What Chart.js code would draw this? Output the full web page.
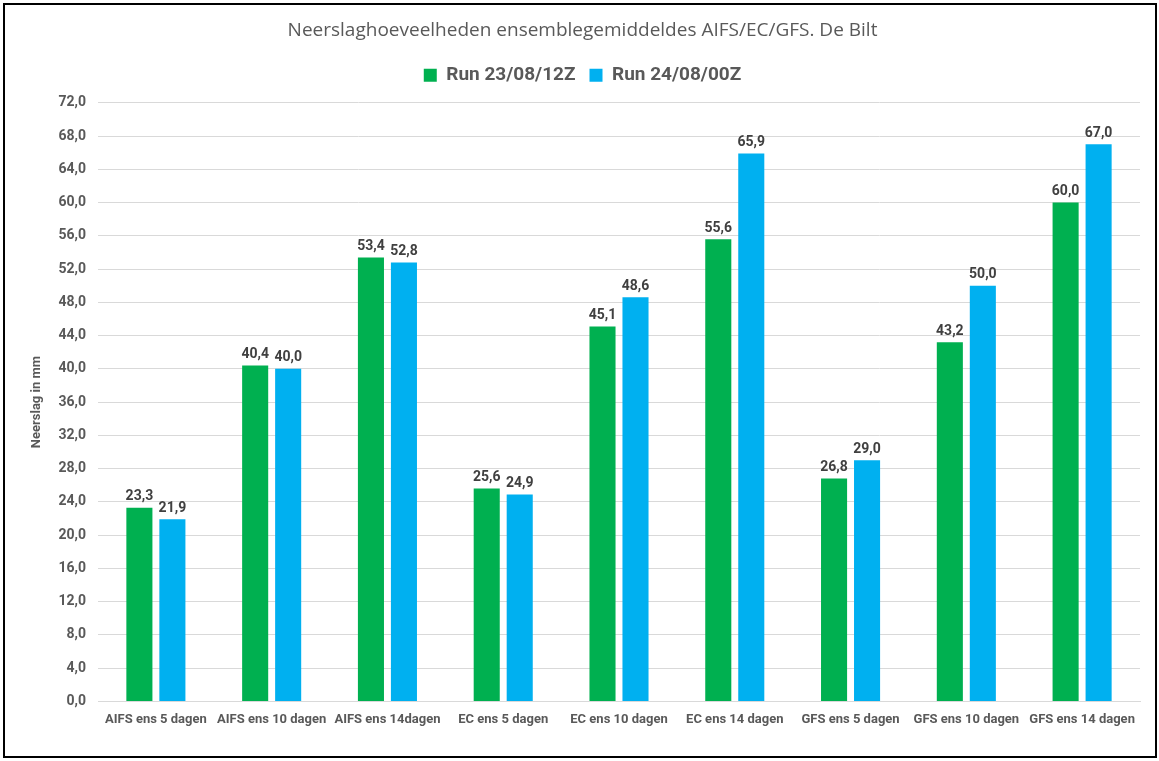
<!DOCTYPE html>
<html>
<head>
<meta charset="utf-8">
<script src="https://cdn.jsdelivr.net/npm/chart.js@4"></script>
<style>
    html, body { margin: 0; padding: 0; background: #fff; }
    #frame {
        position: absolute; left: 3px; top: 3px;
        width: 1154px; height: 755px;
        box-sizing: border-box; border: 2px solid #000;
    }
    #wrap { position: absolute; left: 0; top: 0; right: 0; bottom: 0; }
</style>
</head>
<body>
<div id="frame"><div id="wrap"><canvas id="neerslagChart"></canvas></div></div>
<script>
const categories = [
    'AIFS ens 5 dagen', 'AIFS ens 10 dagen', 'AIFS ens 14dagen',
    'EC ens 5 dagen', 'EC ens 10 dagen', 'EC ens 14 dagen',
    'GFS ens 5 dagen', 'GFS ens 10 dagen', 'GFS ens 14 dagen'
];
const run2308 = [23.3, 40.4, 53.4, 25.6, 45.1, 55.6, 26.8, 43.2, 60.0];
const run2408 = [21.9, 40.0, 52.8, 24.9, 48.6, 65.9, 29.0, 50.0, 67.0];

const narrow = "'Roboto', sans-serif";
const fmt = v => v.toFixed(1).replace('.', ',');

// labels above the bars
const valueLabels = {
    id: 'valueLabels',
    afterDatasetsDraw(chart) {
        const c = chart.ctx;
        c.save();
        c.font = 'bold 14px ' + narrow;
        c.fillStyle = '#404040';
        c.textAlign = 'center';
        c.textBaseline = 'bottom';
        chart.data.datasets.forEach((ds, i) => {
            chart.getDatasetMeta(i).data.forEach((bar, j) => {
                c.fillText(fmt(ds.data[j]), bar.x, bar.y - 4);
            });
        });
        c.restore();
    }
};

// extra room under the legend
const legendGap = {
    id: 'legendGap',
    beforeInit(chart) {
        const fit = chart.legend.fit;
        chart.legend.fit = function () {
            fit.bind(chart.legend)();
            this.height += 8;
        };
    }
};

new Chart(document.getElementById('neerslagChart'), {
    type: 'bar',
    data: {
        labels: categories,
        datasets: [
            { label: 'Run 23/08/12Z', data: run2308, backgroundColor: '#00B050' },
            { label: 'Run 24/08/00Z', data: run2408, backgroundColor: '#00B0F0' }
        ]
    },
    options: {
        responsive: true,
        maintainAspectRatio: false,
        animation: false,
        categoryPercentage: 0.57,
        barPercentage: 0.79,
        layout: { padding: { left: 20, right: 15, top: 8, bottom: 25 } },
        plugins: {
            title: {
                display: true,
                text: 'Neerslaghoeveelheden ensemblegemiddeldes AIFS/EC/GFS. De Bilt',
                color: '#595959',
                font: { family: "'Open Sans', sans-serif", size: 19, weight: 'normal' },
                padding: { top: 6, bottom: 10 }
            },
            legend: {
                position: 'top',
                labels: {
                    color: '#595959',
                    font: { family: narrow, size: 19, weight: 'bold' },
                    boxWidth: 13, boxHeight: 13, padding: 14
                }
            },
            tooltip: { enabled: false }
        },
        scales: {
            x: {
                grid: { display: false },
                border: { color: '#d9d9d9' },
                ticks: { color: '#595959', font: { family: narrow, size: 13, weight: 'bold' }, maxRotation: 0, autoSkip: false }
            },
            y: {
                min: 0, max: 72,
                afterFit: s => { s.width = 73; },
                grid: { color: '#d9d9d9', drawTicks: false },
                border: { display: false },
                ticks: {
                    stepSize: 4, padding: 12, color: '#595959',
                    font: { family: narrow, size: 14, weight: 'bold' },
                    callback: v => fmt(v)
                },
                title: {
                    display: true, text: 'Neerslag in mm', color: '#595959',
                    font: { family: narrow, size: 13, weight: 'bold' }
                }
            }
        }
    },
    plugins: [valueLabels, legendGap]
});
</script>
</body>
</html>
